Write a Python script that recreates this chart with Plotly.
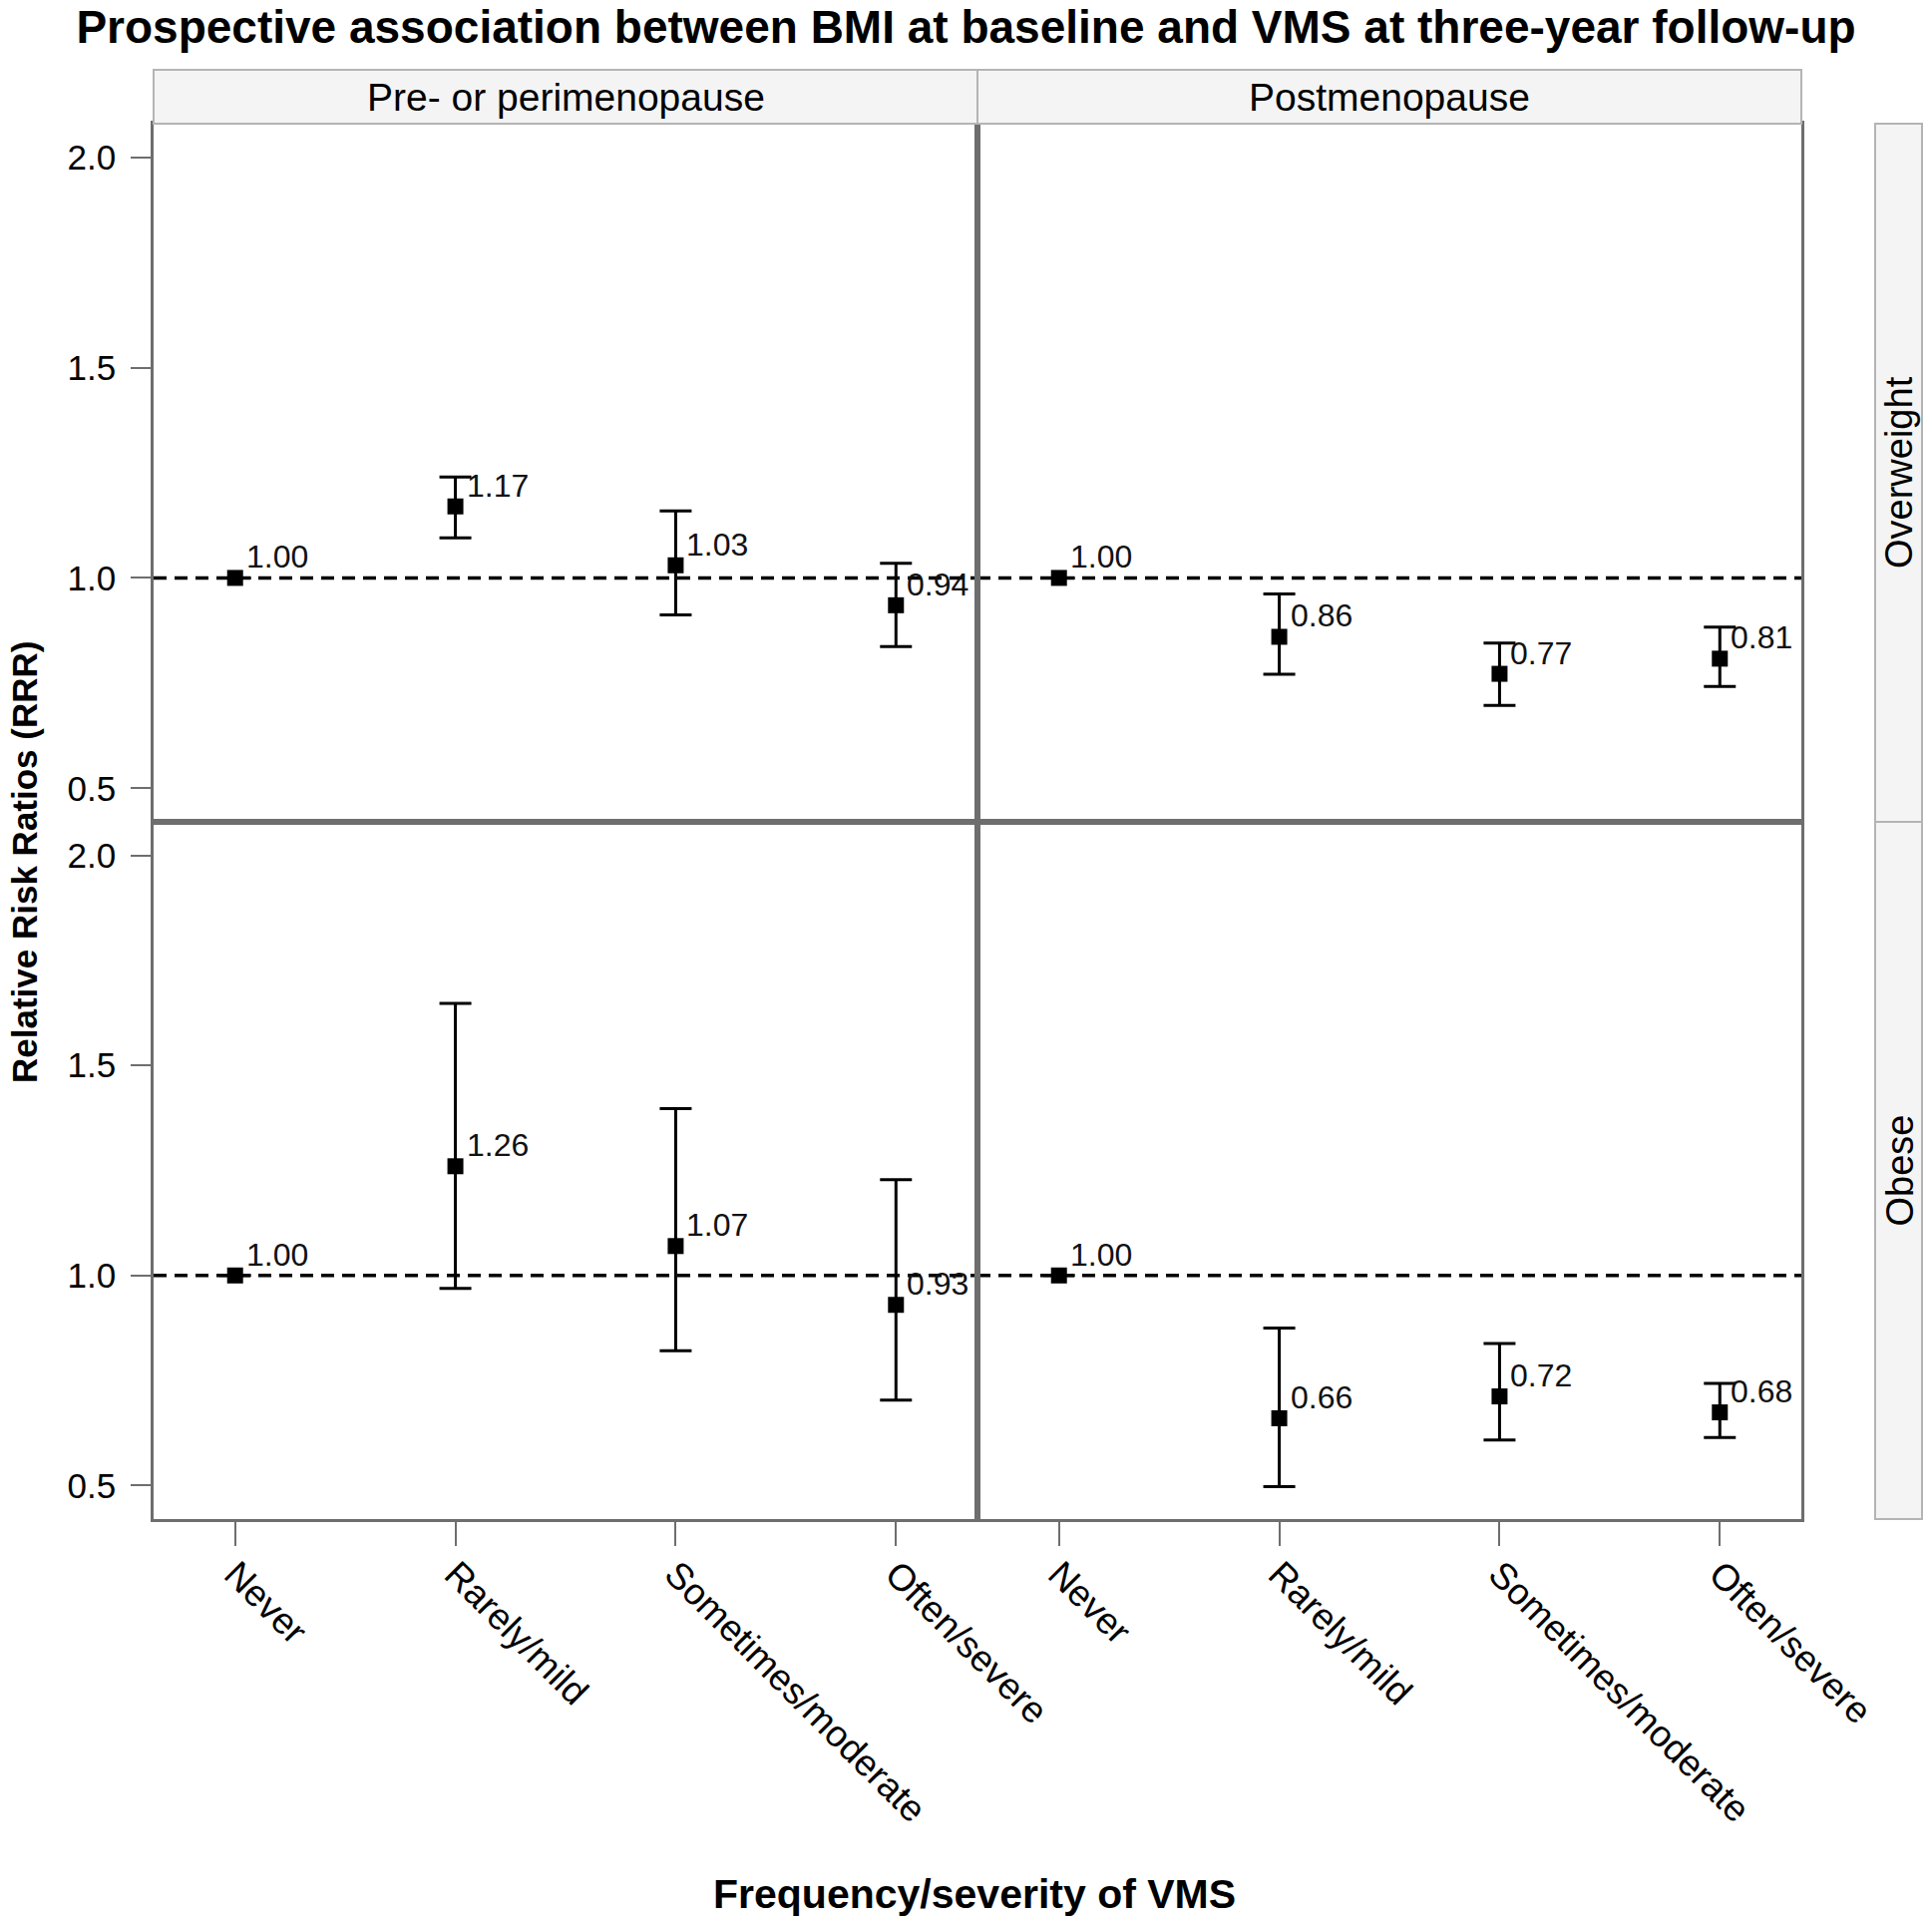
import plotly.graph_objects as go

categories = ["Never", "Rarely/mild", "Sometimes/moderate", "Often/severe"]
phases = ["Pre- or perimenopause", "Postmenopause"]
bmi_groups = ["Overweight", "Obese"]

# Overweight, pre-/perimenopause
ow_pre_rrr = [1.00, 1.17, 1.03, 0.935]
ow_pre_lo = [1.00, 1.095, 0.912, 0.837]
ow_pre_hi = [1.00, 1.240, 1.159, 1.035]
ow_pre_lbl = ["1.00", "1.17", "1.03", "0.94"]

# Overweight, postmenopause
ow_post_rrr = [1.00, 0.86, 0.772, 0.808]
ow_post_lo = [1.00, 0.771, 0.697, 0.742]
ow_post_hi = [1.00, 0.962, 0.845, 0.883]
ow_post_lbl = ["1.00", "0.86", "0.77", "0.81"]

# Obese, pre-/perimenopause
ob_pre_rrr = [1.00, 1.26, 1.07, 0.93]
ob_pre_lo = [1.00, 0.969, 0.821, 0.703]
ob_pre_hi = [1.00, 1.648, 1.397, 1.228]
ob_pre_lbl = ["1.00", "1.26", "1.07", "0.93"]

# Obese, postmenopause
ob_post_rrr = [1.00, 0.66, 0.712, 0.674]
ob_post_lo = [1.00, 0.497, 0.608, 0.614]
ob_post_hi = [1.00, 0.875, 0.838, 0.743]
ob_post_lbl = ["1.00", "0.66", "0.72", "0.68"]

y_ticks = [0.5, 1.0, 1.5, 2.0]
y_tick_labels = ["0.5", "1.0", "1.5", "2.0"]

W, H = 1937, 1928
FONT = "Liberation Sans, Arial, sans-serif"
BORDER = "#6e6e6e"

def px_x(p):
    return p / W

def px_y(p):
    return 1 - p / H

xl = [px_x(154), px_x(980)]
xr = [px_x(980), px_x(1806)]
yt = [px_y(824), px_y(124)]
yb = [px_y(1523), px_y(824)]

panels = [
    ("x", "y", xl, yt, ow_pre_rrr, ow_pre_lo, ow_pre_hi, ow_pre_lbl),
    ("x2", "y2", xr, yt, ow_post_rrr, ow_post_lo, ow_post_hi, ow_post_lbl),
    ("x3", "y3", xl, yb, ob_pre_rrr, ob_pre_lo, ob_pre_hi, ob_pre_lbl),
    ("x4", "y4", xr, yb, ob_post_rrr, ob_post_lo, ob_post_hi, ob_post_lbl),
]

fig = go.Figure()
xpos = list(range(len(categories)))

for xa, ya, xd, yd, rrr, lo, hi, lbl in panels:
    plus = [h - r for h, r in zip(hi, rrr)]
    minus = [r - l for r, l in zip(rrr, lo)]
    fig.add_shape(type="line", xref=f"{xa} domain", yref=ya, x0=0, x1=1, y0=1, y1=1,
                  line=dict(color="black", width=3.5, dash="13px,8px"), layer="below")
    fig.add_trace(go.Scatter(
        x=xpos, y=rrr, xaxis=xa, yaxis=ya, mode="markers",
        marker=dict(symbol="square", size=16, color="black"),
        error_y=dict(type="data", symmetric=False, array=plus, arrayminus=minus,
                     color="black", thickness=3, width=16),
        showlegend=False, cliponaxis=False,
    ))
    for xv, yv, t in zip(xpos, rrr, lbl):
        fig.add_annotation(x=xv, y=yv, xref=xa, yref=ya, text=t, showarrow=False,
                           xanchor="left", yanchor="middle", xshift=9, yshift=21,
                           font=dict(family=FONT, size=32, color="#111111"))

layout = dict(
    width=W, height=H, plot_bgcolor="white", paper_bgcolor="white",
    margin=dict(l=0, r=0, t=0, b=0),
    title=dict(text="<b>Prospective association between BMI at baseline and VMS at three-year follow-up</b>",
               x=0.5, xanchor="center", y=px_y(27), yanchor="middle",
               font=dict(family=FONT, size=46, color="black")),
)

for xa, ya, xd, yd, *_rest in panels:
    xname = "xaxis" if xa == "x" else "xaxis" + xa[1:]
    yname = "yaxis" if ya == "y" else "yaxis" + ya[1:]
    bottom = yd is yb
    left = xd is xl
    layout[xname] = dict(
        domain=xd, anchor=ya, range=[-0.37, 3.37],
        tickmode="array", tickvals=xpos, ticktext=categories,
        showticklabels=bottom, ticks="outside" if bottom else "", ticklen=24, tickwidth=1.8,
        tickcolor=BORDER, tickangle=45, ticklabelstandoff=-8,
        tickfont=dict(family=FONT, size=37, color="black"),
        showgrid=False, zeroline=False, showline=True, linecolor=BORDER, linewidth=2.5,
        mirror=True, automargin=False,
    )
    layout[yname] = dict(
        domain=yd, anchor=xa, range=[0.42, 2.08],
        tickmode="array", tickvals=y_ticks, ticktext=y_tick_labels,
        showticklabels=left, ticks="outside" if left else "", ticklen=20, tickwidth=1.8,
        tickcolor=BORDER, ticklabelstandoff=8,
        tickfont=dict(family=FONT, size=35, color="black"),
        showgrid=False, zeroline=False, showline=True, linecolor=BORDER, linewidth=2.5,
        mirror=True, automargin=False,
    )

fig.update_layout(**layout)

strip_fill = "#f4f4f4"
strip_line = "#b4b4b4"
for xd, name in zip([xl, xr], phases):
    fig.add_shape(type="rect", xref="paper", yref="paper",
                  x0=xd[0], x1=xd[1], y0=px_y(124), y1=px_y(70),
                  fillcolor=strip_fill, line=dict(color=strip_line, width=2))
    fig.add_annotation(xref="paper", yref="paper", x=(xd[0] + xd[1]) / 2, y=px_y(97),
                       text=name, showarrow=False, xanchor="center", yanchor="middle",
                       font=dict(family=FONT, size=39, color="black"))

for yd, name in zip([yt, yb], bmi_groups):
    fig.add_shape(type="rect", xref="paper", yref="paper",
                  x0=px_x(1880), x1=px_x(1927), y0=yd[0], y1=yd[1],
                  fillcolor=strip_fill, line=dict(color=strip_line, width=2))
    fig.add_annotation(xref="paper", yref="paper", x=px_x(1904), y=(yd[0] + yd[1]) / 2,
                       text=name, showarrow=False, textangle=-90,
                       xanchor="center", yanchor="middle",
                       font=dict(family=FONT, size=38, color="black"))

fig.add_annotation(xref="paper", yref="paper", x=px_x(977), y=px_y(1899),
                   text="<b>Frequency/severity of VMS</b>", showarrow=False,
                   xanchor="center", yanchor="middle",
                   font=dict(family=FONT, size=41, color="black"))
fig.add_annotation(xref="paper", yref="paper", x=px_x(25), y=px_y(865),
                   text="<b>Relative Risk Ratios (RRR)</b>", showarrow=False, textangle=-90,
                   xanchor="center", yanchor="middle",
                   font=dict(family=FONT, size=35, color="black"))

fig.write_html("out.html", config={"displayModeBar": False},
               post_script="document.body.style.margin='0px';")
